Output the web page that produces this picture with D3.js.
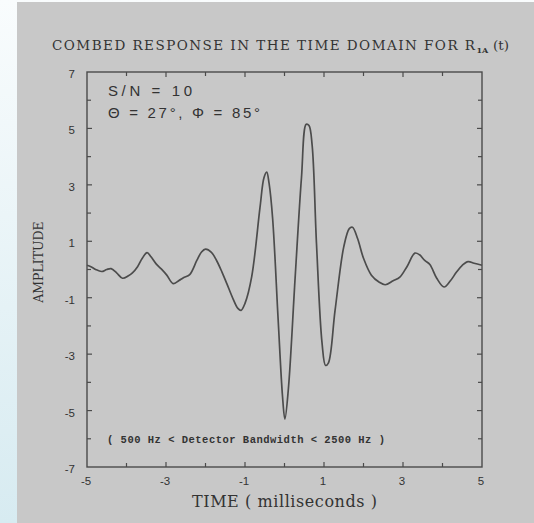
<!DOCTYPE html>
<html>
<head>
<meta charset="utf-8">
<script src="https://cdn.jsdelivr.net/npm/d3@7"></script>
<style>
  html, body { margin: 0; padding: 0; background: #fff; }
  svg { display: block; }
</style>
</head>
<body>
<div class="graph"></div>
<script>
// combed response
var times = [-5.00,-4.90,-4.78,-4.63,-4.50,-4.39,-4.25,-4.10,-3.95,-3.85,-3.72,-3.60,-3.48,-3.38,
  -3.25,-3.12,-2.98,-2.82,-2.68,-2.56,-2.40,-2.22,-2.10,-2.00,-1.85,-1.72,-1.58,-1.46,-1.30,-1.18,
  -1.10,-1.00,-0.83,-0.62,-0.52,-0.45,-0.39,-0.30,-0.16,-0.05,0.01,0.10,0.27,0.43,0.55,0.62,0.70,
  0.81,0.95,1.04,1.11,1.28,1.50,1.64,1.72,1.85,2.00,2.20,2.40,2.55,2.75,2.92,3.10,3.30,3.42,3.55,
  3.68,3.85,4.04,4.20,4.35,4.50,4.65,4.80,5.00];
var amps = [0.15,0.10,0.00,-0.07,0.00,0.03,-0.12,-0.31,-0.22,-0.12,0.10,0.40,0.60,0.45,
  0.20,0.02,-0.20,-0.50,-0.40,-0.29,-0.18,0.32,0.62,0.72,0.61,0.32,-0.10,-0.50,-1.05,-1.38,
  -1.45,-1.20,-0.25,2.20,3.25,3.45,3.05,1.80,-1.80,-4.50,-5.30,-4.20,-0.27,3.26,5.15,5.10,4.40,
  0.91,-2.60,-3.40,-3.32,-1.45,0.80,1.45,1.50,1.10,0.40,-0.20,-0.45,-0.54,-0.40,-0.27,0.10,0.58,0.52,0.32,
  0.18,-0.30,-0.62,-0.40,-0.10,0.15,0.28,0.22,0.15];

var xMajor = [-5,-3,-1,1,3,5];
var yMajor = [7,5,3,1,-1,-3,-5,-7];
var xMinor = [-4,-2,0,2,4];
var yMinor = [6,4,2,0,-2,-4,-6];

var W = 534, H = 523;
var svg = d3.select(".graph").append("svg").attr("width", W).attr("height", H);

// page background: pale blue strip on the left, grey sheet
var grad = svg.append("defs").append("linearGradient").attr("id","strip")
  .attr("x1",0).attr("y1",0).attr("x2",0).attr("y2",1);
grad.append("stop").attr("offset","0%").attr("stop-color","#f9fcfd");
grad.append("stop").attr("offset","100%").attr("stop-color","#d7ebf1");
svg.append("rect").attr("width",W).attr("height",H).attr("fill","url(#strip)");
svg.append("rect").attr("x",17).attr("y",2).attr("width",W-17).attr("height",H-2).attr("fill","#c8c8c8");

var pL = 87, pR = 482, pT = 72, pB = 467;
var x = d3.scaleLinear().domain([-5,5]).range([pL,pR]);
var y = d3.scaleLinear().domain([-7,7]).range([pB,pT]);

var ink = "#4a4a4a", txt = "#333";
var g = svg.append("g");

// frame
g.append("rect").attr("x",pL).attr("y",pT).attr("width",pR-pL).attr("height",pB-pT)
  .attr("fill","none").attr("stroke",ink).attr("stroke-width",1.4);

// inward ticks on all four sides
function xticks(vals, len){
  vals.forEach(function(v){
    g.append("line").attr("x1",x(v)).attr("x2",x(v)).attr("y1",pB).attr("y2",pB-len)
      .attr("stroke",ink).attr("stroke-width",1.2);
    g.append("line").attr("x1",x(v)).attr("x2",x(v)).attr("y1",pT).attr("y2",pT+len)
      .attr("stroke",ink).attr("stroke-width",1.2);
  });
}
function yticks(vals, len){
  vals.forEach(function(v){
    g.append("line").attr("x1",pL).attr("x2",pL+len).attr("y1",y(v)).attr("y2",y(v))
      .attr("stroke",ink).attr("stroke-width",1.2);
    g.append("line").attr("x1",pR).attr("x2",pR-len).attr("y1",y(v)).attr("y2",y(v))
      .attr("stroke",ink).attr("stroke-width",1.2);
  });
}
xticks(xMajor.slice(1,-1),5); xticks(xMinor,4);
yticks(yMajor.slice(1,-1),5); yticks(yMinor,4);

// tick labels
g.selectAll(".xl").data(xMajor).enter().append("text")
  .attr("x",function(d){return x(d)-1;}).attr("y",pB+18)
  .attr("text-anchor","middle").style("font-family","Liberation Sans").style("font-size","11.5px")
  .attr("fill",txt).text(function(d){return d;});
g.selectAll(".yl").data(yMajor).enter().append("text")
  .attr("x",pL-12).attr("y",function(d){return y(d)+6;})
  .attr("text-anchor","end").style("font-family","Liberation Sans").style("font-size","11.5px")
  .attr("fill",txt).text(function(d){return d;});

// the curve
var line = d3.line().x(function(d){return x(d[0]);}).y(function(d){return y(d[1]);})
  .curve(d3.curveCatmullRom.alpha(0.5));
g.append("path").datum(d3.zip(times,amps)).attr("d",line)
  .attr("fill","none").attr("stroke","#4c4c4c").attr("stroke-width",1.7);

// titles
var title = svg.append("text").attr("x",52).attr("y",50)
  .style("font-family","DejaVu Serif").style("font-size","13.5px").attr("fill",txt);
title.append("tspan").attr("textLength",423).attr("lengthAdjust","spacing")
  .text("COMBED RESPONSE IN THE TIME DOMAIN FOR R");
title.append("tspan").attr("dy",3).style("font-size","8px").style("font-weight","bold").text("1A");
title.append("tspan").attr("dy",-3).attr("x",493).text("(t)");

svg.append("text").attr("transform","translate(43,262) rotate(-90)")
  .attr("text-anchor","middle").style("font-family","DejaVu Serif").style("font-size","12.5px")
  .attr("fill",txt).text("AMPLITUDE");

svg.append("text").attr("x",192).attr("y",507).attr("textLength",185).attr("lengthAdjust","spacing")
  .style("font-family","DejaVu Serif").style("font-size","16px")
  .attr("fill",txt).text("TIME ( milliseconds )");

svg.append("text").attr("x",108).attr("y",96).attr("textLength",84).attr("lengthAdjust","spacing")
  .style("font-family","Liberation Sans").style("font-size","15px")
  .attr("fill",txt).text("S/N = 10");
svg.append("text").attr("x",108).attr("y",118).attr("textLength",152).attr("lengthAdjust","spacing")
  .style("font-family","Liberation Sans").style("font-size","15px")
  .attr("fill",txt).text("\u0398 = 27\u00b0, \u03a6 = 85\u00b0");

svg.append("text").attr("x",107).attr("y",443).attr("textLength",278).attr("lengthAdjust","spacing")
  .style("font-family","Liberation Mono").style("font-size","10.5px").style("font-weight","bold")
  .attr("fill",txt).attr("xml:space","preserve")
  .text("( 500 Hz < Detector Bandwidth < 2500 Hz )");
</script>
</body>
</html>
